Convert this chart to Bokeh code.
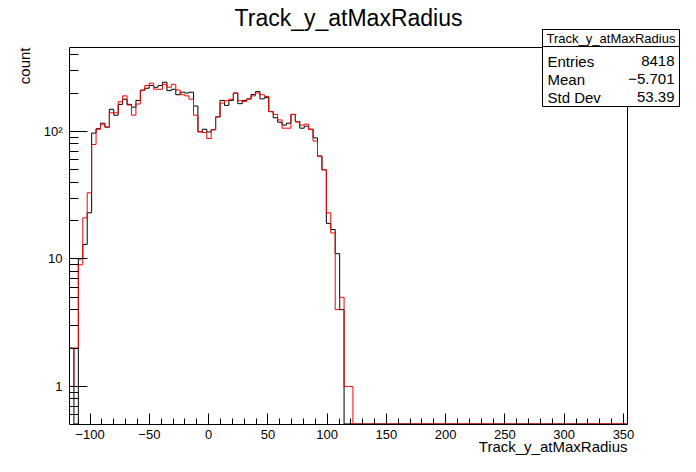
import numpy as np
from bokeh.plotting import figure
from bokeh.models import Range1d, FixedTicker, Label, BoxAnnotation
from bokeh.embed import file_html
from bokeh.resources import INLINE

# ---------------- data ----------------
X_MIN, X_MAX = -117.4, 353.4          # histogram / axis range
N_BINS = 126
Y_MIN, Y_MAX = 0.503, 455.0           # log axis range

counts_black = [2, 0, 10, 13, 23, 97, 105, 116, 108, 149,
                134, 163, 179, 163, 155, 175, 211, 218, 229, 222,
                229, 243, 209, 214, 194, 203, 200, 203, 158, 99,
                104, 99, 103, 130, 175, 160, 175, 200, 165, 175,
                180, 195, 205, 180, 184, 143, 128, 118, 112, 116,
                136, 119, 106, 110, 104, 89, 64, 50, 19, 17,
                11, 4, 0, 0]
counts_red = [1, 2, 9, 21, 33, 79, 104, 114, 108, 140,
              140, 171, 190, 161, 134, 164, 209, 229, 239, 214,
              214, 234, 222, 234, 211, 194, 190, 179, 134, 100,
              98, 88, 103, 130, 167, 174, 179, 200, 174, 171,
              179, 190, 200, 194, 188, 143, 136, 123, 106, 106,
              136, 119, 112, 114, 104, 84, 64, 50, 23, 16,
              4, 5, 1, 1]

x_major = [-100, -50, 0, 50, 100, 150, 200, 250, 300, 350]
x_minor = list(range(-110, 360, 10))
x_labels = {-100: "\u2212100", -50: "\u221250"}
y_major = [1, 10, 100]
y_minor = [0.6, 0.7, 0.8, 0.9, 2, 3, 4, 5, 6, 7, 8, 9,
           20, 30, 40, 50, 60, 70, 80, 90, 200, 300, 400]
y_labels = {1: "1", 10: "10", 100: "10\u00b2"}

title_text = "Track_y_atMaxRadius"
x_title = "Track_y_atMaxRadius"
y_title = "count"
stats_name = "Track_y_atMaxRadius"
stats_rows = [("Entries", "8418"), ("Mean", "\u22125.701"), ("Std Dev", "53.39")]

# ---------------- layout (pixels) ----------------
W, H = 680, 456
PL, PR, PT, PB = 69, 627, 47, 424       # plot box inside the canvas
FONT = "Liberation Sans"

ux = (X_MAX - X_MIN) / (PR - PL)
ly0, ly1 = np.log10(Y_MIN), np.log10(Y_MAX)
uy = (ly1 - ly0) / (PB - PT)
view_x = (X_MIN - PL * ux, X_MAX + (W - PR) * ux)
view_y = (10 ** (ly0 - (H - PB) * uy), 10 ** (ly1 + PT * uy))


def xd(px):
    return X_MIN + (px - PL) * ux


def yd(py):
    return 10 ** (ly0 + (PB - py) * uy)


p = figure(width=W, height=H, output_backend="svg", toolbar_location=None,
           y_axis_type="log",
           x_range=Range1d(*view_x), y_range=Range1d(*view_y),
           min_border=0, min_border_left=0, min_border_right=0,
           min_border_top=0, min_border_bottom=0)
p.title.visible = False
p.xgrid.visible = False
p.ygrid.visible = False
p.outline_line_color = None
p.background_fill_color = "white"
p.border_fill_color = "white"

# ---------------- histograms ----------------
edges = np.linspace(X_MIN, X_MAX, N_BINS + 1)
FLOOR = Y_MIN * 1.01


def step_path(counts):
    c = np.zeros(N_BINS)
    c[:len(counts)] = counts
    c = np.where(c > 0, c, FLOOR)
    xs = np.repeat(edges, 2)
    ys = np.concatenate([[FLOOR], np.repeat(c, 2), [FLOOR]])
    return xs, ys


bx, by = step_path(counts_black)
rx, ry = step_path(counts_red)
p.line(bx, by, line_color="black", line_width=1)
p.line(rx, ry, line_color="#ff0000", line_width=1)

# top and right sides of the frame
p.line([X_MIN, X_MAX, X_MAX], [Y_MAX, Y_MAX, Y_MIN], line_color="black", line_width=1)

# ---------------- axes ----------------
for ax in (p.xaxis[0], p.yaxis[0]):
    ax.axis_line_color = "black"
    ax.major_tick_line_color = "black"
    ax.minor_tick_line_color = "black"
    ax.major_tick_out = 0
    ax.minor_tick_out = 0
    ax.major_label_text_font = FONT
    ax.major_label_text_font_size = "13px"
    ax.major_label_text_color = "black"

xa = p.xaxis[0]
xa.fixed_location = Y_MIN
xa.bounds = (X_MIN, X_MAX)
xa.ticker = FixedTicker(ticks=x_major, minor_ticks=x_minor)
xa.major_label_overrides = x_labels
xa.major_tick_in = 11
xa.minor_tick_in = 6
xa.major_label_standoff = 5

ya = p.yaxis[0]
ya.fixed_location = X_MIN
ya.bounds = (Y_MIN, Y_MAX)
ya.ticker = FixedTicker(ticks=y_major, minor_ticks=y_minor)
ya.major_label_overrides = y_labels
ya.major_tick_in = 18
ya.minor_tick_in = 9
ya.major_label_standoff = 7

# ---------------- texts ----------------
p.add_layout(Label(x=xd(348), y=yd(17), text=title_text, text_align="center",
                   text_baseline="alphabetic", text_font=FONT,
                   text_font_size="23px", text_color="black"))
p.add_layout(Label(x=X_MAX, y=yd(446), text=x_title, text_align="right",
                   text_baseline="alphabetic", text_font=FONT,
                   text_font_size="15px", text_color="black"))
p.add_layout(Label(x=xd(23.5), y=Y_MAX, text=y_title, text_align="right",
                   text_baseline="middle", angle=np.pi / 2, text_font=FONT,
                   text_font_size="15px", text_color="black"))

# ---------------- stats box ----------------
BL, BR, BT, BS, BB = 542, 679, 29, 46, 106
p.add_layout(BoxAnnotation(left=xd(BL), right=xd(BR), top=yd(BT), bottom=yd(BB),
                           fill_color="white", fill_alpha=1.0,
                           line_color="black", line_width=1, line_alpha=1.0,
                           level="overlay"))
p.add_layout(BoxAnnotation(left=xd(BL), right=xd(BR), top=yd(BT), bottom=yd(BS),
                           fill_alpha=0.0, line_color="black", line_width=1,
                           line_alpha=1.0, level="overlay"))
p.add_layout(Label(x=xd((BL + BR) / 2), y=yd((BT + BS) / 2), text=stats_name,
                   text_align="center", text_baseline="middle", text_font=FONT,
                   text_font_size="13px", text_color="black", level="overlay"))
for i, (lab, val) in enumerate(stats_rows):
    yy = yd(60.5 + i * 18.2)
    p.add_layout(Label(x=xd(547), y=yy, text=lab, text_align="left",
                       text_baseline="middle", text_font=FONT,
                       text_font_size="15px", text_color="black", level="overlay"))
    p.add_layout(Label(x=xd(674), y=yy, text=val, text_align="right",
                       text_baseline="middle", text_font=FONT,
                       text_font_size="15px", text_color="black", level="overlay"))

open("out.html", "w").write(file_html(p, INLINE))
